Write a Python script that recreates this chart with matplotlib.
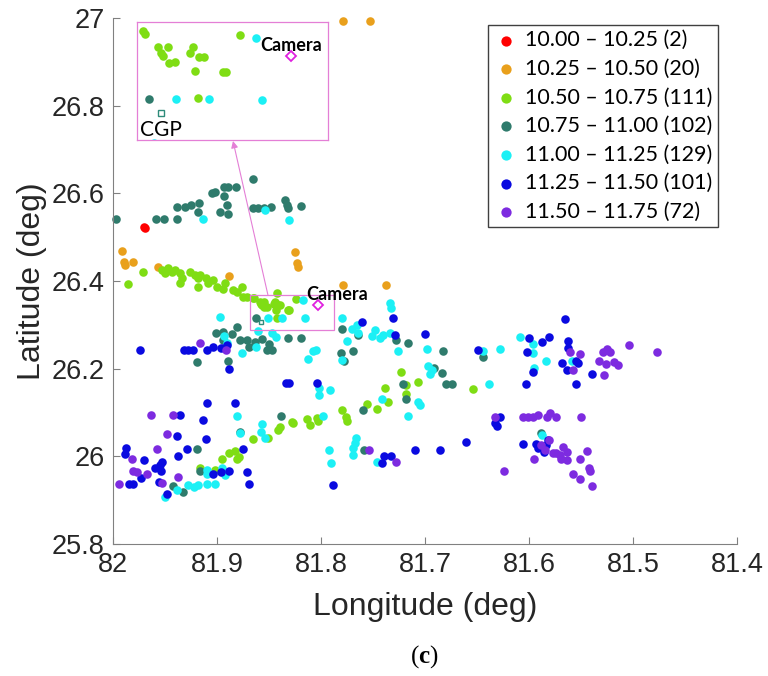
import matplotlib
matplotlib.use("Agg")
import matplotlib.pyplot as plt

# snow depth groups (lon, lat)
red_lon = [81.970, 81.969]
red_lat = [26.523, 26.521]

orange_lon = [81.991, 81.989, 81.988, 81.981, 81.957, 81.888, 81.825, 81.823, 81.822,
              81.779, 81.737, 81.779, 81.753]
orange_lat = [26.468, 26.443, 26.436, 26.443, 26.432, 26.411, 26.466, 26.441, 26.432,
              26.391, 26.391, 26.993, 26.993]

green_lon = [81.986, 81.971, 81.953, 81.950, 81.947, 81.943, 81.940, 81.936, 81.936, 81.934,
             81.926, 81.921, 81.918, 81.916, 81.918, 81.911, 81.909, 81.904, 81.900, 81.894,
             81.892, 81.885, 81.881, 81.876, 81.875, 81.871, 81.842,
             81.916, 81.902, 81.895, 81.888, 81.883, 81.881, 81.879, 81.865, 81.851, 81.841,
             81.839, 81.828, 81.827, 81.813, 81.811, 81.804, 81.803, 81.780, 81.776, 81.775,
             81.756, 81.746, 81.736, 81.738, 81.723, 81.718, 81.718, 81.707, 81.654,
             81.8654, 81.8645, 81.8590, 81.8548, 81.8578, 81.8569, 81.8544, 81.8519, 81.8443,
             81.8455, 81.8417, 81.8396, 81.8434, 81.8316, 81.8303, 81.8244, 81.8422]
green_lat = [26.393, 26.420, 26.425, 26.418, 26.430, 26.420, 26.425, 26.418, 26.395, 26.407,
             26.420, 26.414, 26.407, 26.414, 26.386, 26.407, 26.395, 26.402, 26.386, 26.382,
             26.395, 26.379, 26.375, 26.386, 26.363, 26.363, 26.373,
             25.973, 25.969, 25.994, 26.008, 26.012, 25.994, 25.998, 26.039, 26.042, 26.060,
             26.067, 26.078, 26.076, 26.085, 26.071, 26.087, 26.081, 26.106, 26.090, 26.081,
             26.119, 26.108, 26.124, 26.156, 26.192, 26.163, 26.142, 26.170, 26.154,
             26.3622, 26.3601, 26.3513, 26.3513, 26.3472, 26.3452, 26.3404, 26.3411, 26.3513,
             26.3472, 26.3445, 26.3445, 26.3349, 26.3343, 26.3343, 26.3594, 26.3165]

teal_lon = [81.997, 81.959, 81.951, 81.938, 81.938, 81.931, 81.925, 81.918, 81.917, 81.905,
            81.902, 81.893, 81.893, 81.889, 81.882, 81.890, 81.897, 81.889, 81.865, 81.865,
            81.861, 81.855, 81.848, 81.835, 81.833, 81.832, 81.819,
            81.881, 81.901, 81.894, 81.886, 81.894, 81.878, 81.871, 81.869, 81.863, 81.857,
            81.850, 81.852, 81.847, 81.832, 81.819, 81.919, 81.889,
            81.780, 81.764, 81.728, 81.716, 81.781, 81.778, 81.769, 81.683, 81.644, 81.691,
            81.684, 81.680, 81.674, 81.721, 81.718, 81.760, 81.759,
            81.838, 81.878, 81.919, 81.942, 81.933, 81.916, 81.588, 81.8628]
teal_lat = [26.541, 26.541, 26.541, 26.541, 26.569, 26.569, 26.573, 26.557, 26.578, 26.601,
            26.603, 26.594, 26.614, 26.614, 26.614, 26.573, 26.557, 26.553, 26.633, 26.567,
            26.567, 26.567, 26.569, 26.585, 26.573, 26.567, 26.571,
            26.295, 26.281, 26.284, 26.279, 26.265, 26.265, 26.265, 26.249, 26.261, 26.268,
            26.256, 26.243, 26.243, 26.270, 26.270, 26.215, 26.217,
            26.290, 26.277, 26.265, 26.259, 26.236, 26.217, 26.240, 26.240, 26.227, 26.201,
            26.190, 26.165, 26.165, 26.165, 26.131, 26.106, 26.014,
            26.092, 26.055, 26.017, 25.932, 25.919, 25.966, 26.053, 26.3159]

cyan_lon = [81.913, 81.854, 81.831, 81.897, 81.893, 81.890, 81.876, 81.862, 81.861, 81.847,
            81.843, 81.808, 81.812,
            81.734, 81.733, 81.780, 81.770, 81.765, 81.764, 81.775, 81.805, 81.780, 81.751,
            81.748, 81.743, 81.740, 81.734, 81.726, 81.698, 81.697, 81.695,
            81.802, 81.802, 81.791, 81.741, 81.705, 81.716, 81.798, 81.638, 81.628, 81.609, 81.644,
            81.766, 81.767, 81.769, 81.769, 81.792, 81.790, 81.596, 81.596, 81.584, 81.595,
            81.559, 81.587,
            81.881, 81.857, 81.858, 81.854, 81.878, 81.746, 81.707, 81.693,
            81.950, 81.938, 81.928, 81.922, 81.918, 81.910, 81.902, 81.910, 81.910, 81.892, 81.895,
            81.8177, 81.8514, 81.8375, 81.8152]
cyan_lat = [26.541, 26.562, 26.539, 26.318, 26.274, 26.259, 26.236, 26.249, 26.286, 26.281,
            26.272, 26.240, 26.222,
            26.350, 26.338, 26.316, 26.290, 26.300, 26.281, 26.263, 26.243, 26.220, 26.274,
            26.288, 26.270, 26.277, 26.281, 26.240, 26.245, 26.206, 26.188,
            26.140, 26.156, 26.151, 26.131, 26.117, 26.092, 26.092, 26.165, 26.245, 26.272, 26.240,
            26.042, 26.030, 26.019, 26.003, 26.014, 25.985, 26.256, 26.236, 26.217, 26.201,
            26.217, 26.049,
            26.092, 26.074, 26.055, 26.042, 26.053, 25.987, 26.124, 26.197,
            25.907, 25.923, 25.935, 25.930, 25.935, 25.937, 25.937, 25.969, 25.960, 25.957, 25.973,
            26.3574, 26.3159, 26.3159, 26.3152]

blue_lon = [81.974, 81.932, 81.928, 81.923, 81.910, 81.904, 81.896, 81.890, 81.888, 81.910,
            81.883, 81.834, 81.831, 81.804,
            81.936, 81.913, 81.938, 81.911, 81.987, 81.988, 81.970, 81.937, 81.929, 81.953,
            81.955, 81.960, 81.954, 81.973, 81.985, 81.981, 81.956, 81.948,
            81.904, 81.896, 81.888, 81.875, 81.871, 81.869, 81.788, 81.739, 81.733, 81.741,
            81.710, 81.686,
            81.761, 81.731, 81.729, 81.700, 81.649, 81.602, 81.600, 81.603, 81.628, 81.633,
            81.631, 81.661, 81.606,
            81.565, 81.587, 81.581, 81.596, 81.568, 81.563, 81.562, 81.562, 81.555, 81.553,
            81.539, 81.555,
            81.593, 81.591, 81.584, 81.582, 81.586]
blue_lat = [26.243, 26.243, 26.243, 26.243, 26.243, 26.249, 26.247, 26.254, 26.199, 26.122,
            26.122, 26.167, 26.167, 26.167,
            26.094, 26.083, 26.046, 26.039, 26.019, 26.005, 25.992, 26.001, 26.017, 25.987,
            25.980, 25.973, 25.966, 25.951, 25.937, 25.937, 25.941, 25.914,
            25.960, 25.964, 25.966, 26.017, 25.964, 25.937, 25.935, 26.001, 26.001, 25.985,
            26.014, 26.014,
            26.306, 26.316, 26.277, 26.279, 26.243, 26.238, 26.270, 26.165, 26.090, 26.076,
            26.069, 26.033, 26.028,
            26.313, 26.261, 26.272, 26.192, 26.213, 26.197, 26.263, 26.247, 26.217, 26.213,
            26.188, 26.165,
            26.028, 26.019, 26.026, 26.037, 26.010]

purple_lon = [81.916, 81.891, 81.963, 81.942, 81.948, 81.958, 81.982, 81.981, 81.977, 81.967,
              81.994, 81.953, 81.937,
              81.754, 81.728, 81.633, 81.606, 81.601, 81.624,
              81.561, 81.551, 81.558, 81.529, 81.525, 81.522, 81.533, 81.526, 81.518, 81.514,
              81.528, 81.504, 81.477,
              81.596, 81.591, 81.583, 81.580, 81.574, 81.550,
              81.588, 81.585, 81.581, 81.577, 81.574, 81.567, 81.570, 81.563, 81.569, 81.563,
              81.595, 81.544, 81.551, 81.542, 81.541, 81.558, 81.551, 81.539]
purple_lat = [26.259, 26.243, 26.094, 26.094, 26.051, 26.017, 25.994, 25.966, 25.964, 25.960,
              25.937, 25.939, 25.953,
              26.014, 25.987, 26.090, 26.090, 26.090, 25.966,
              26.238, 26.233, 26.197, 26.238, 26.245, 26.238, 26.217, 26.211, 26.215, 26.208,
              26.185, 26.254, 26.238,
              26.090, 26.094, 26.090, 26.099, 26.090, 26.090,
              26.026, 26.014, 26.037, 26.008, 26.008, 26.021, 26.003, 26.010, 25.994, 25.992,
              25.994, 26.012, 25.994, 25.973, 25.966, 25.960, 25.948, 25.932]

labels = ["10.00 – 10.25 (2)", "10.25 – 10.50 (20)", "10.50 – 10.75 (111)",
          "10.75 – 11.00 (102)", "11.00 – 11.25 (129)", "11.25 – 11.50 (101)",
          "11.50 – 11.75 (72)"]
colors = ["#FF0000", "#E9A01C", "#7FDD14", "#2F7B6C", "#1CF0F5", "#0A0AE0", "#7D2BE0"]

camera_lon, camera_lat = 81.8029, 26.3452
cgp_lon, cgp_lat = 81.8577, 26.3064
zoom_lon = (81.868, 81.787)
zoom_lat = (26.288, 26.368)

lons = [red_lon, orange_lon, green_lon, teal_lon, cyan_lon, blue_lon, purple_lon]
lats = [red_lat, orange_lat, green_lat, teal_lat, cyan_lat, blue_lat, purple_lat]

pink = "#E47FD6"
grey = "#808080"

plt.rcParams["mathtext.fontset"] = "custom"
plt.rcParams["mathtext.rm"] = "Liberation Serif"
plt.rcParams["mathtext.bf"] = "Liberation Serif:bold"

fig = plt.figure(figsize=(7.68, 6.76), dpi=100)
ax = fig.add_axes([0.1471, 0.1953, 0.8125, 0.7781])

for lo, la, c, lab in zip(lons, lats, colors, labels):
    ax.scatter(lo, la, s=38, color=c, linewidths=0, label=lab, clip_on=False)

ax.plot(camera_lon, camera_lat, marker="D", ms=5, mfc="none", mec="#E020E0", mew=1.3, ls="none")
ax.plot(cgp_lon, cgp_lat, marker="s", ms=3.5, mfc="none", mec="#2E8B7A", mew=1, ls="none")
ax.text(81.8144, 26.3566, "Camera", fontsize=13, fontweight="bold", family="Lato",
        ha="left", va="baseline")
ax.add_patch(plt.Rectangle((zoom_lon[0], zoom_lat[0]), zoom_lon[1] - zoom_lon[0],
                           zoom_lat[1] - zoom_lat[0], fill=False, ec=pink, lw=0.9))

ax.set_xlim(82, 81.4)
ax.set_ylim(25.8, 27)
ax.set_xticks([82, 81.9, 81.8, 81.7, 81.6, 81.5, 81.4])
ax.set_xticklabels(["82", "81.9", "81.8", "81.7", "81.6", "81.5", "81.4"])
ax.set_yticks([25.8, 26, 26.2, 26.4, 26.6, 26.8, 27])
ax.set_yticklabels(["25.8", "26", "26.2", "26.4", "26.6", "26.8", "27"])
for s in ["top", "right"]:
    ax.spines[s].set_visible(False)
for s in ["left", "bottom"]:
    ax.spines[s].set_color(grey)
    ax.spines[s].set_linewidth(0.8)
ax.tick_params(direction="in", length=5, color=grey, labelsize=19.5, pad=6)
for t in ax.get_xticklabels() + ax.get_yticklabels():
    t.set_family("Liberation Sans")
    t.set_color("#262626")

ax.set_xlabel("Longitude (deg)", fontsize=23, family="Liberation Sans", color="#262626")
ax.set_ylabel("Latitude (deg)", fontsize=23, family="Liberation Sans", color="#262626")
ax.xaxis.set_label_coords(0.5, -0.092)
ax.yaxis.set_label_coords(-0.106, 0.5)

leg = ax.legend(loc="upper right", bbox_to_anchor=(0.97, 0.987), borderaxespad=0,
                fancybox=False, edgecolor="#404040", framealpha=1, markerscale=1.2,
                prop={"family": "Lato", "size": 15.5}, handlelength=1.2, handletextpad=0.3,
                labelspacing=0.4, borderpad=0.25)
leg.get_frame().set_linewidth(1.0)

# magnified view around the camera
ax_in = fig.add_axes([0.1784, 0.7929, 0.2487, 0.1746])
for lo, la, c in zip(lons, lats, colors):
    ax_in.scatter(lo, la, s=38, color=c, linewidths=0)
ax_in.plot(camera_lon, camera_lat, marker="D", ms=5.5, mfc="none", mec="#E020E0", mew=1.3, ls="none")
ax_in.plot(cgp_lon, cgp_lat, marker="s", ms=4, mfc="none", mec="#2E8B7A", mew=1, ls="none")
ax_in.set_xlim(zoom_lon)
ax_in.set_ylim(zoom_lat)
ax_in.set_xticks([])
ax_in.set_yticks([])
for s in ax_in.spines.values():
    s.set_color(pink)
    s.set_linewidth(0.9)
ax_in.text(0.644, 0.754, "Camera", fontsize=13, fontweight="bold", family="Lato",
           transform=ax_in.transAxes, ha="left", va="baseline")
ax_in.text(0.016, 0.034, "CGP", fontsize=15, family="Lato", transform=ax_in.transAxes,
           ha="left", va="baseline")

ax.annotate("", xy=(0.3034, 0.7914), xycoords="figure fraction",
            xytext=(81.851, zoom_lat[1]), textcoords="data",
            arrowprops=dict(arrowstyle="-|>", color=pink, lw=0.8, mutation_scale=10,
                            shrinkA=0, shrinkB=0))

fig.text(0.553, 0.028, r"$\mathrm{(}\mathbf{c}\mathrm{)}$", fontsize=18,
         ha="center", va="center")

fig.savefig("out.png", dpi=100)
